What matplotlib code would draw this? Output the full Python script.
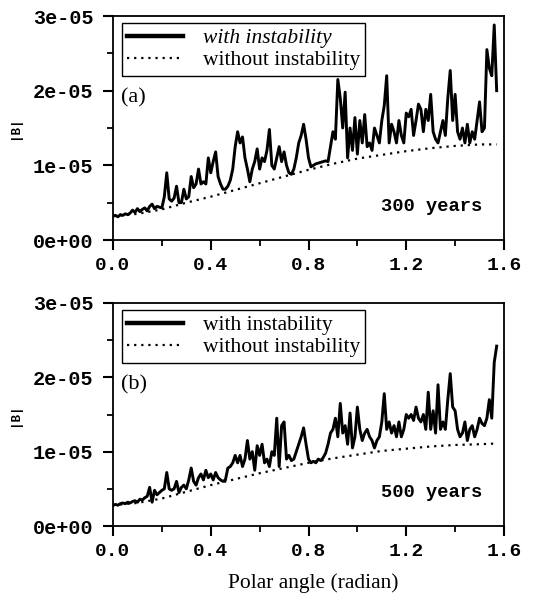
import numpy as np
import matplotlib
matplotlib.use("Agg")
import matplotlib.pyplot as plt
from matplotlib.ticker import MultipleLocator

# ---------------- data (|B| in units of 1e-5) ----------------
angle = np.round(np.arange(0, 158) * 0.01, 2)  # polar angle grid 0.00 .. 1.57

with_a = [
    0.32, 0.33, 0.31, 0.34, 0.33, 0.35, 0.34, 0.36, 0.40, 0.37,
    0.42, 0.38, 0.41, 0.43, 0.39, 0.45, 0.48, 0.42, 0.45, 0.44,
    0.43, 0.58, 0.90, 0.55, 0.52, 0.56, 0.72, 0.50, 0.50, 0.68,
    0.55, 0.58, 0.85, 0.70, 0.75, 0.95, 0.75, 0.78, 0.75, 1.10,
    0.90, 1.05, 1.18, 0.85, 0.75, 0.68, 0.68, 0.72, 0.80, 0.95,
    1.25, 1.45, 1.30, 1.38, 1.10, 0.95, 0.78, 0.95, 1.05, 1.22,
    0.95, 1.10, 1.05, 1.20, 1.48, 1.00, 0.95, 1.10, 1.25, 1.05,
    1.18, 1.00, 0.90, 0.88, 0.95, 1.10, 1.30, 1.40, 1.55, 1.35,
    1.10, 0.98, 1.00, 1.02, 1.03, 1.04, 1.05, 1.06, 1.05, 1.25,
    1.45, 1.35, 2.15, 1.90, 1.50, 1.98, 1.10, 1.50, 1.20, 1.64,
    1.15, 1.60, 1.30, 1.68, 1.25, 1.30, 1.20, 1.50, 1.40, 1.30,
    1.60, 1.80, 2.20, 1.30, 1.55, 1.45, 1.30, 1.60, 1.40, 1.30,
    1.70, 1.65, 1.75, 1.40, 1.60, 1.82, 1.75, 1.45, 1.75, 1.60,
    1.95, 1.45, 1.35, 1.30, 1.45, 1.60, 1.40, 1.90, 2.27, 1.60,
    1.95, 1.45, 1.35, 1.50, 1.30, 1.55, 1.30, 1.45, 1.35, 1.60,
    1.85, 1.45, 1.50, 2.55, 2.30, 2.20, 2.88, 2.00,
]

with_b = [
    0.28, 0.29, 0.28, 0.30, 0.31, 0.30, 0.32, 0.31, 0.33, 0.34,
    0.32, 0.36, 0.35, 0.38, 0.40, 0.52, 0.32, 0.48, 0.42, 0.45,
    0.48, 0.50, 0.72, 0.50, 0.48, 0.50, 0.60, 0.45, 0.52, 0.55,
    0.50, 0.62, 0.78, 0.60, 0.55, 0.65, 0.70, 0.62, 0.75, 0.65,
    0.70, 0.62, 0.72, 0.65, 0.62, 0.60, 0.62, 0.78, 0.80, 0.85,
    0.95, 0.85, 0.95, 0.80, 0.90, 1.15, 0.90, 1.00, 0.75, 1.08,
    0.95, 1.10, 0.85, 0.90, 0.80, 1.00, 0.95, 1.45, 0.80, 1.35,
    1.40, 0.90, 0.95, 0.88, 0.90, 1.00, 1.10, 1.20, 1.32, 1.10,
    0.90, 0.85, 0.87, 0.85, 0.90, 0.88, 0.92, 0.98, 1.10, 1.25,
    1.30, 1.45, 1.20, 1.65, 1.25, 1.35, 1.10, 1.52, 1.05, 1.20,
    1.60, 1.30, 1.15, 1.25, 1.30, 1.20, 1.15, 1.05, 1.15, 1.20,
    1.40, 1.78, 1.30, 1.40, 1.25, 1.35, 1.20, 1.40, 1.20, 1.30,
    1.50, 1.45, 1.50, 1.42, 1.60, 1.45, 1.40, 1.50, 1.30, 1.80,
    1.30, 1.55, 1.25, 1.90, 1.30, 1.40, 1.30, 1.70, 2.05, 1.60,
    1.55, 1.30, 1.20, 1.25, 1.40, 1.15, 1.30, 1.35, 1.20, 1.30,
    1.45, 1.38, 1.35, 1.45, 1.70, 1.45, 2.20, 2.42,
]

base_angle = [0.0, 0.1, 0.2, 0.3, 0.4, 0.5, 0.6, 0.7, 0.8, 0.9,
              1.0, 1.1, 1.2, 1.3, 1.4, 1.5, 1.57]
without_a = [0.32, 0.35, 0.41, 0.50, 0.58, 0.67, 0.76, 0.85, 0.94, 1.02,
             1.09, 1.14, 1.19, 1.23, 1.26, 1.28, 1.28]
without_b = [0.28, 0.31, 0.37, 0.46, 0.55, 0.63, 0.71, 0.78, 0.85, 0.91,
             0.96, 1.01, 1.04, 1.07, 1.09, 1.10, 1.11]

panel_labels = ["(a)", "(b)"]
time_labels = ["300 years", "500 years"]
y_ticks = [0, 1e-5, 2e-5, 3e-5]
y_tick_labels = ["0e+00", "1e-05", "2e-05", "3e-05"]
x_ticks = [0.0, 0.4, 0.8, 1.2, 1.6]
x_tick_labels = ["0.0", "0.4", "0.8", "1.2", "1.6"]

# ---------------- figure ----------------
mono = "Liberation Mono"
serif = "Liberation Serif"

fig = plt.figure(figsize=(5.5, 6.0), dpi=100)
W, H = 550.0, 600.0
rects = [
    (113 / W, 1 - 240 / H, 391 / W, 224 / H),
    (113 / W, 1 - 526 / H, 391 / W, 223 / H),
]

series = [(with_a, without_a), (with_b, without_b)]
for i, rect in enumerate(rects):
    ax = fig.add_axes(rect)
    w, wo = series[i]
    ax.plot(angle, np.array(w) * 1e-5, color="black", lw=2.1,
            label="with instability")
    ax.plot(base_angle, np.array(wo) * 1e-5, color="black", lw=1.6,
            linestyle=(0, (1.0, 2.2)), label="without instability")
    ax.set_xlim(0, 1.6)
    ax.set_ylim(0, 3e-5)
    ax.set_xticks(x_ticks)
    ax.set_xticklabels(x_tick_labels, fontfamily=mono, fontweight="bold", fontsize=14)
    ax.set_yticks(y_ticks)
    ax.set_yticklabels(y_tick_labels, fontfamily=mono, fontweight="bold", fontsize=14.5)
    ax.xaxis.set_minor_locator(MultipleLocator(0.2))
    ax.yaxis.set_minor_locator(MultipleLocator(0.5e-5))
    ax.tick_params(which="major", direction="out", length=7, width=1.5, pad=5)
    ax.tick_params(axis="y", which="major", pad=7)
    ax.tick_params(which="minor", direction="out", length=4, width=1.3)
    for s in ax.spines.values():
        s.set_linewidth(1.3)
    ax.set_ylabel("|B|", fontfamily=mono, fontweight="bold", fontsize=9)
    ax.yaxis.set_label_coords(-0.235, 0.5)

    leg = ax.legend(loc="upper left", bbox_to_anchor=(0.023, 0.97), borderaxespad=0,
                    prop={"family": serif, "size": 15.5}, frameon=True, fancybox=False,
                    edgecolor="black", framealpha=1, handlelength=2.6, handletextpad=0.9,
                    borderpad=0.25, labelspacing=0.1)
    leg.get_frame().set_linewidth(1.0)
    leg.get_lines()[0].set_linewidth(3.2)
    if i == 0:
        leg.get_texts()[0].set_fontstyle("italic")

    ax.text(0.02, 0.635, panel_labels[i], transform=ax.transAxes, fontfamily=serif,
            fontsize=16, va="center", ha="left")
    ax.text(0.945, 0.15, time_labels[i], transform=ax.transAxes, fontfamily=mono,
            fontweight="bold", fontsize=13.5, va="center", ha="right")

fig.text(313 / W, 1 - 583 / H, "Polar angle (radian)", fontfamily=serif, fontsize=15.5,
         ha="center", va="center")

fig.savefig("out.png", dpi=100)
